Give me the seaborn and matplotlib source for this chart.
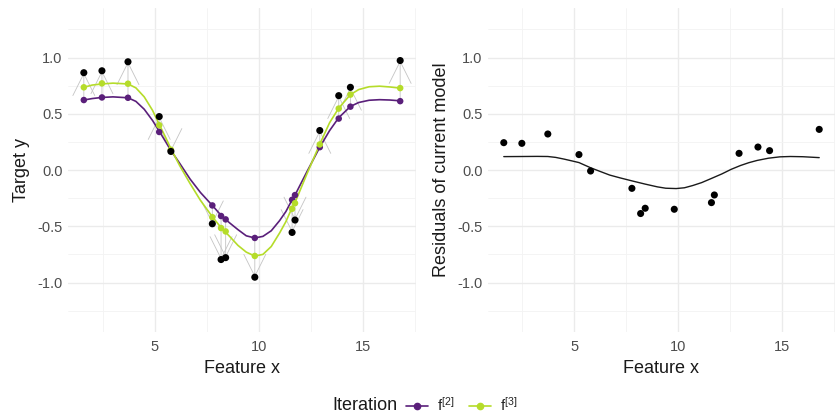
import numpy as np
import pandas as pd
import matplotlib
matplotlib.use("Agg")
import matplotlib.pyplot as plt
from matplotlib.lines import Line2D
from matplotlib.ticker import MultipleLocator
import seaborn as sns

# observed data
x_obs = [1.60, 2.47, 3.72, 5.22, 5.78, 7.77, 8.19, 8.41, 9.81, 11.60, 11.74, 12.93, 13.84, 14.40, 16.79]
y_obs = [0.865, 0.882, 0.962, 0.475, 0.165, -0.478, -0.796, -0.779, -0.953, -0.555, -0.445, 0.351, 0.661, 0.735, 0.973]

# model predictions at the observations
f2_obs = [0.622, 0.645, 0.642, 0.338, 0.174, -0.315, -0.409, -0.439, -0.604, -0.265, -0.223, 0.203, 0.457, 0.563, 0.612]
f3_obs = [0.735, 0.770, 0.767, 0.398, 0.180, -0.419, -0.516, -0.546, -0.764, -0.345, -0.295, 0.227, 0.546, 0.670, 0.728]
resid = [0.243, 0.237, 0.320, 0.137, -0.009, -0.163, -0.387, -0.340, -0.349, -0.290, -0.222, 0.148, 0.204, 0.172, 0.361]

# smooth model curves
grid_x = [1.60, 2.0, 2.47, 3.0, 3.72, 4.1, 4.5, 4.9, 5.22, 5.5, 5.78, 6.2, 6.7, 7.2, 7.77, 8.2, 8.6,
          9.0, 9.4, 9.81, 10.2, 10.6, 11.0, 11.3, 11.6, 11.74, 12.3, 12.93, 13.4, 13.84, 14.40,
          14.8, 15.3, 15.8, 16.3, 16.79]
f2_curve = [0.622, 0.635, 0.645, 0.650, 0.642, 0.610, 0.540, 0.440, 0.345, 0.260, 0.174, 0.060,
            -0.080, -0.200, -0.315, -0.405, -0.470, -0.530, -0.585, -0.604, -0.590, -0.540,
            -0.450, -0.370, -0.265, -0.223, -0.020, 0.203, 0.350, 0.465, 0.565, 0.600, 0.620,
            0.625, 0.622, 0.615]
f3_curve = [0.735, 0.755, 0.765, 0.772, 0.765, 0.730, 0.650, 0.530, 0.405, 0.300, 0.190, 0.040,
            -0.120, -0.270, -0.415, -0.515, -0.590, -0.670, -0.730, -0.765, -0.750, -0.680,
            -0.560, -0.460, -0.335, -0.290, -0.040, 0.230, 0.420, 0.550, 0.670, 0.715, 0.740,
            0.745, 0.738, 0.728]

fit_x = [1.60, 2.5, 3.2, 3.72, 4.1, 4.5, 4.9, 5.22, 5.78, 6.2, 6.7, 7.2, 7.8, 8.4, 9.0, 9.4, 9.9,
         10.3, 10.7, 11.13, 11.6, 12.1, 12.55, 13.0, 13.4, 13.8, 14.35, 14.9, 15.4, 16.0, 16.79]
fit_curve = [0.119, 0.120, 0.121, 0.120, 0.112, 0.097, 0.080, 0.066, 0.020, -0.010, -0.045, -0.070,
             -0.098, -0.125, -0.150, -0.162, -0.165, -0.158, -0.138, -0.112, -0.075, -0.035,
             0.006, 0.040, 0.065, 0.085, 0.105, 0.117, 0.120, 0.118, 0.110]

PURPLE = "#5A1F7A"
GREEN = "#B5DC2A"
INK = "#1A1A1A"

sns.set_theme(style="whitegrid")
plt.rcParams['font.family'] = ['Liberation Sans', 'DejaVu Sans']

fig = plt.figure(figsize=(8.37, 4.13), dpi=100)
W, H = 837, 413
ax1 = fig.add_axes([68 / W, 1 - 332 / H, 348 / W, 324 / H])
ax2 = fig.add_axes([488 / W, 1 - 332 / H, 347 / W, 324 / H])

for ax in (ax1, ax2):
    ax.set_facecolor("white")
    ax.xaxis.set_major_locator(MultipleLocator(5))
    ax.xaxis.set_minor_locator(MultipleLocator(2.5))
    ax.yaxis.set_major_locator(MultipleLocator(0.5))
    ax.yaxis.set_minor_locator(MultipleLocator(0.25))
    ax.grid(which="major", color="#EBEBEB", lw=1.0)
    ax.grid(which="minor", color="#F3F3F3", lw=0.6)
    ax.set_axisbelow(True)
    for s in ax.spines.values():
        s.set_visible(False)
    ax.tick_params(which="both", length=0, labelsize=10.5, labelcolor="#4D4D4D")
    ax.tick_params(axis="x", pad=6)
    ax.tick_params(axis="y", pad=4)
    ax.set_yticks([-1, -0.5, 0, 0.5, 1])
    ax.set_yticklabels(["-1.0", "-0.5", "0.0", "0.5", "1.0"])
    ax.set_xlabel("Feature x", fontsize=13, color=INK, labelpad=4)

# left panel: arrows from f2 to the observations
for xi, yi, fi in zip(x_obs, y_obs, f2_obs):
    ax1.annotate("", xy=(xi, yi), xytext=(xi, fi),
                 arrowprops=dict(arrowstyle="->,head_length=15.8,head_width=7.9",
                                 mutation_scale=1, color="#C4C4C4", lw=0.6,
                                 shrinkA=0, shrinkB=0), zorder=1)

sns.lineplot(x=grid_x, y=f2_curve, color=PURPLE, lw=1.2, ax=ax1, zorder=3)
sns.lineplot(x=grid_x, y=f3_curve, color=GREEN, lw=1.2, ax=ax1, zorder=3)
sns.scatterplot(x=x_obs, y=f2_obs, color=PURPLE, s=22, edgecolor="none", ax=ax1, zorder=4)
sns.scatterplot(x=x_obs, y=f3_obs, color=GREEN, s=22, edgecolor="none", ax=ax1, zorder=4)
sns.scatterplot(x=x_obs, y=y_obs, color="black", s=26, edgecolor="none", ax=ax1, zorder=5)
ax1.set_ylabel("Target y", fontsize=13, color=INK, labelpad=5)

# right panel: residuals and their fit
sns.scatterplot(x=x_obs, y=resid, color="black", s=26, edgecolor="none", ax=ax2, zorder=4)
sns.lineplot(x=fit_x, y=fit_curve, color=INK, lw=1.0, ax=ax2, zorder=3)
ax2.set_ylabel("Residuals of current model", fontsize=13, color=INK, labelpad=5)

for ax in (ax1, ax2):
    ax.set_xlim(0.84, 17.55)
    ax.set_ylim(-1.44, 1.44)

# legend
fig.text(332 / W, 1 - 405 / H, "Iteration", fontsize=13, color=INK, va="center", ha="left")
handles = [Line2D([0], [0], color=PURPLE, lw=1.2, marker="o", ms=4.5),
           Line2D([0], [0], color=GREEN, lw=1.2, marker="o", ms=4.5)]
fig.legend(handles, [r"$\mathregular{f^{[2]}}$", r"$\mathregular{f^{[3]}}$"], loc="center left",
           bbox_to_anchor=(406 / W, 1 - 405 / H), ncol=2, frameon=False,
           fontsize=11, handlelength=1.45, handletextpad=0.6, columnspacing=0.9,
           borderpad=0, borderaxespad=0)

fig.savefig("out.png", dpi=100)
